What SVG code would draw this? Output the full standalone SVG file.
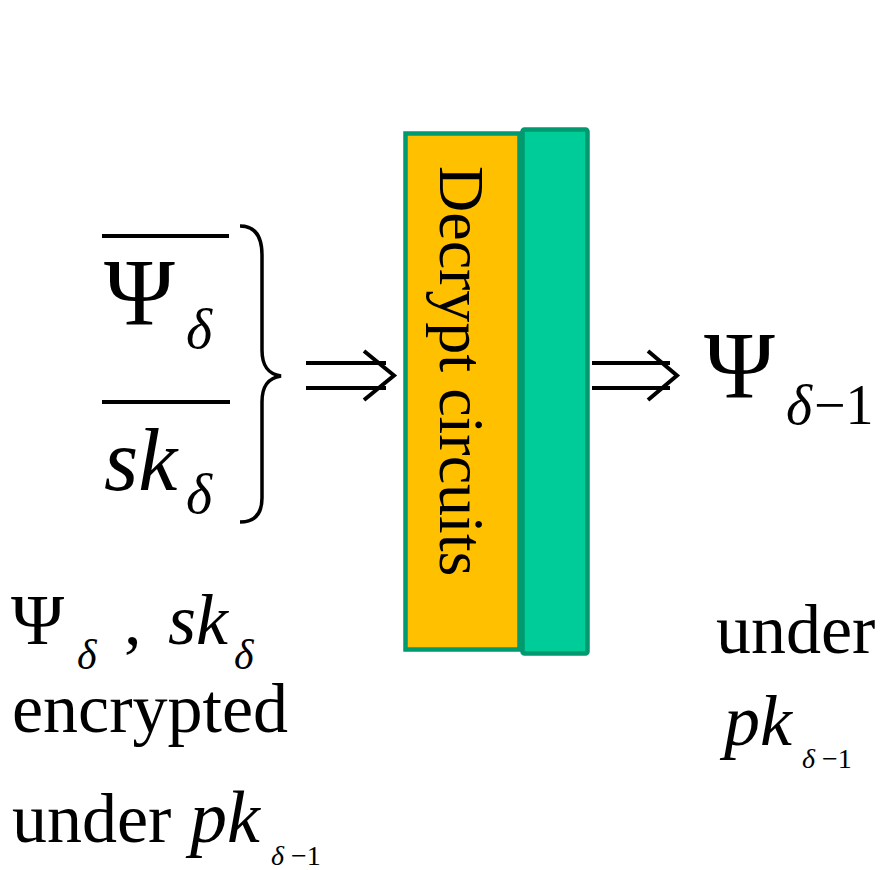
<svg xmlns="http://www.w3.org/2000/svg" width="885" height="870" viewBox="0 0 885 870">
  <style>
    .t { font-family: "Liberation Serif", "Times New Roman", serif; fill: #000; }
    .i { font-style: italic; }
    .ln { stroke: #000; stroke-width: 4; fill: none; }
    .arr { stroke: #000; stroke-width: 4; fill: none; stroke-linejoin: miter; }
    .box { stroke: #009970; stroke-width: 4.5; }
  </style>
  <rect width="885" height="870" fill="#ffffff"/>

  <g id="inputs">
    <line class="ln" x1="102" y1="236" x2="229" y2="236"/>
    <text class="t" x="104" y="325" font-size="96">Ψ</text>
    <text class="t i" x="186" y="348" font-size="56">δ</text>
    <line class="ln" x1="102" y1="402" x2="230" y2="402"/>
    <text class="t i" x="104" y="490" font-size="88">sk</text>
    <text class="t i" x="186" y="513" font-size="56">δ</text>
    <path d="M240,226 C255,226 262,236 262,255 L262,350 C262,366 268,374 281,376 C268,378 262,386 262,402 L262,498 C262,514 255,522 240,522" fill="none" stroke="#000" stroke-width="3.5"/>
  </g>

  <g id="decrypt">
    <rect class="box" x="405.5" y="133.5" width="114" height="516" fill="#FFC000"/>
    <rect class="box" x="522.5" y="129.5" width="65" height="524" fill="#00CC99" rx="2"/>
    <text class="t" transform="translate(440,166) rotate(90)" font-size="64">Decrypt circuits</text>
  </g>

  <g id="output">
    <text class="t" x="704" y="398" font-size="96">Ψ</text>
    <text class="t i" x="786" y="424" font-size="56">δ</text>
    <text class="t" x="814" y="424" font-size="56">−1</text>
  </g>

  <g id="connectors">
    <line class="ln" x1="306" y1="363" x2="386" y2="363"/>
    <line class="ln" x1="306" y1="388" x2="386" y2="388"/>
    <path class="arr" d="M364,351 L394,375.5 L364,400"/>
    <line class="ln" x1="592" y1="363" x2="670" y2="363"/>
    <line class="ln" x1="592" y1="388" x2="670" y2="388"/>
    <path class="arr" d="M648,351 L677,375.5 L648,400"/>
  </g>

  <g id="left-caption">
    <text class="t" x="11" y="644" font-size="72">Ψ</text>
    <text class="t i" x="77" y="669" font-size="42">δ</text>
    <text class="t" x="124" y="644" font-size="70">,</text>
    <text class="t i" x="168" y="644" font-size="72">sk</text>
    <text class="t i" x="234" y="669" font-size="42">δ</text>
    <text class="t" x="12" y="732" font-size="70">encrypted</text>
    <text class="t" x="12" y="842" font-size="70">under</text>
    <text class="t i" x="190" y="842" font-size="74">pk</text>
    <text class="t" x="271" y="865" font-size="28"><tspan class="i">δ</tspan> −1</text>
  </g>

  <g id="right-caption">
    <text class="t" x="716" y="653" font-size="70">under</text>
    <text class="t i" x="724" y="745" font-size="72">pk</text>
    <text class="t" x="802" y="768" font-size="28"><tspan class="i">δ</tspan> −1</text>
  </g>
</svg>
